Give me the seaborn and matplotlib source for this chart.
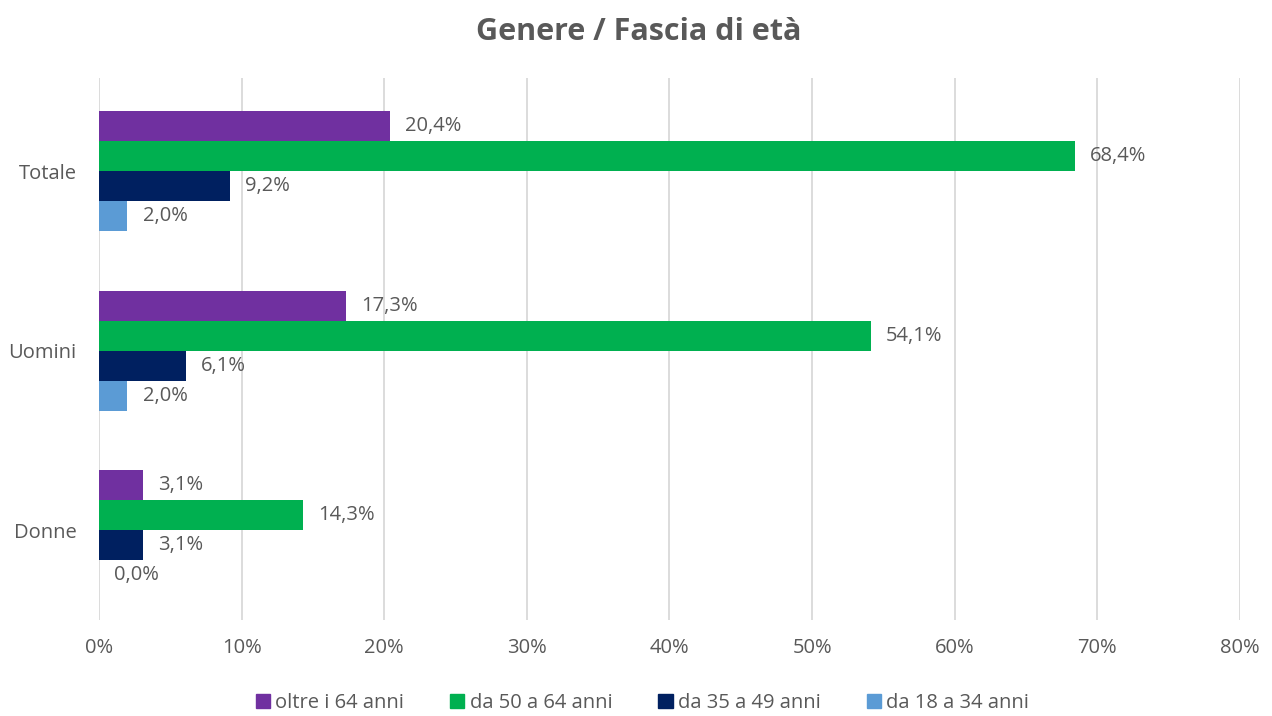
import matplotlib
matplotlib.use("Agg")
import matplotlib.pyplot as plt
from matplotlib.ticker import FuncFormatter
import pandas as pd
import seaborn as sns

# categories and series (values in %)
groups = ["Totale", "Uomini", "Donne"]
ages = ["oltre i 64 anni", "da 50 a 64 anni", "da 35 a 49 anni", "da 18 a 34 anni"]
oltre_64 = [20.4, 17.3, 3.1]
da_50_64 = [68.4, 54.1, 14.3]
da_35_49 = [9.2, 6.1, 3.1]
da_18_34 = [2.0, 2.0, 0.0]
colors = ["#7030A0", "#00B050", "#002060", "#5B9BD5"]

rows = []
for age, vals in zip(ages, [oltre_64, da_50_64, da_35_49, da_18_34]):
    for g, v in zip(groups, vals):
        rows.append({"gruppo": g, "eta": age, "valore": v})
df = pd.DataFrame(rows)

sns.set_style("white")
plt.rcParams["font.family"] = ["Open Sans", "DejaVu Sans"]
text_color = "#595959"
fs = 14.5

fig = plt.figure(figsize=(12.72, 7.16), dpi=100)
ax = fig.add_axes([0.0778, 0.134, 0.897, 0.757])

sns.barplot(data=df, y="gruppo", x="valore", hue="eta", order=groups,
            hue_order=ages, palette=colors, orient="h", width=0.67,
            saturation=1, linewidth=0, ax=ax, legend=True)

# value labels
for cont in ax.containers:
    labels = [("%.1f%%" % v).replace(".", ",") for v in cont.datavalues]
    ax.bar_label(cont, labels=labels, padding=11, fontsize=fs, color=text_color)

ax.set_xlim(0, 80)
ax.set_ylim(2.5, -0.52)
ax.set_xticks(range(0, 81, 10))
ax.xaxis.set_major_formatter(FuncFormatter(lambda v, p: "%d%%" % v))
ax.grid(axis="x", color="#D9D9D9", linewidth=1.3)
ax.set_axisbelow(True)
for s in ax.spines.values():
    s.set_visible(False)
ax.tick_params(axis="both", length=0, labelsize=fs, labelcolor=text_color)
ax.tick_params(axis="x", pad=13)
ax.tick_params(axis="y", pad=16)
ax.set_xlabel("")
ax.set_ylabel("")

fig.text(0.502, 0.956, "Genere / Fascia di età", ha="center", va="center",
         fontsize=22, fontweight="bold", color=text_color)

ax.get_legend().remove()
handles = [plt.Rectangle((0, 0), 1, 1, color=c) for c in colors]
fig.legend(handles, ages, loc="center", bbox_to_anchor=(0.505, 0.018), ncol=4,
           frameon=False, fontsize=fs, labelcolor=text_color, handlelength=0.7,
           handleheight=0.7, handletextpad=0.25, columnspacing=2.3)

fig.savefig("out.png", dpi=100)
